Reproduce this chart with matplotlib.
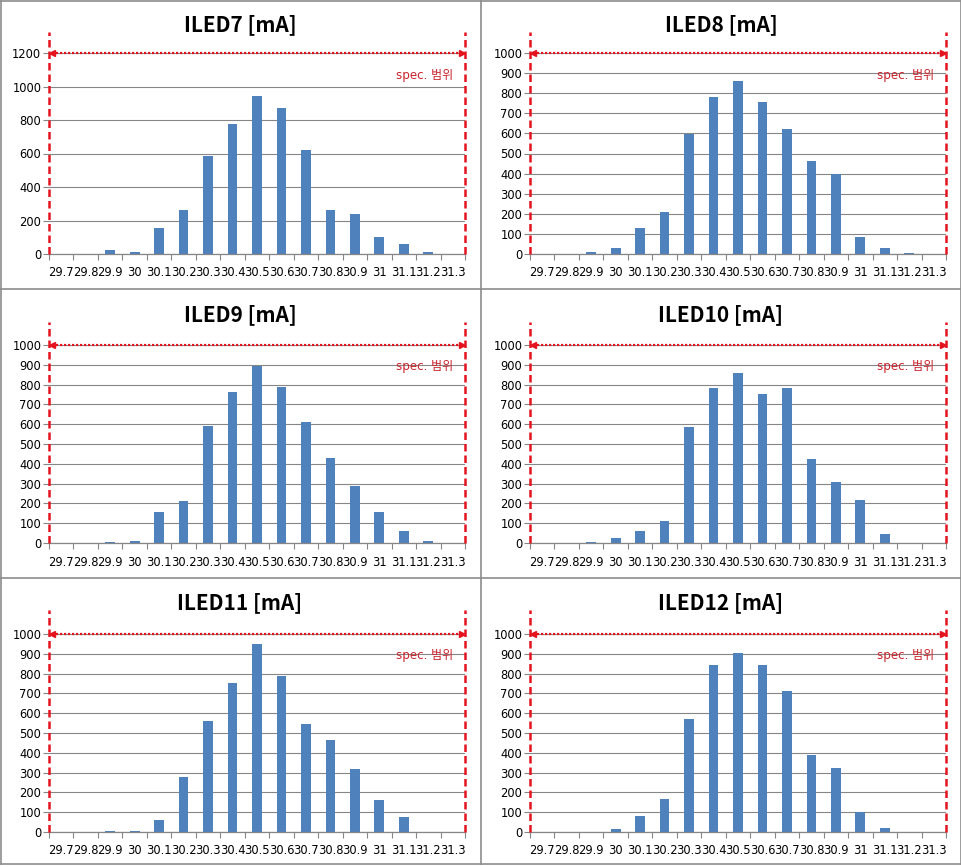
import matplotlib
matplotlib.use('Agg')
import matplotlib.pyplot as plt
from matplotlib.lines import Line2D
import numpy as np

plt.rcParams['font.family'] = ['DejaVu Sans', 'Noto Sans CJK KR']

categories = ['29.7', '29.8', '29.9', '30', '30.1', '30.2', '30.3', '30.4', '30.5',
              '30.6', '30.7', '30.8', '30.9', '31', '31.1', '31.2', '31.3']

iled7 = [0, 0, 26, 12, 157, 265, 585, 775, 945, 870, 620, 262, 237, 103, 62, 14, 0]
iled8 = [0, 0, 10, 29, 128, 210, 599, 782, 862, 757, 621, 465, 398, 87, 32, 5, 0]
iled9 = [0, 0, 5, 12, 155, 213, 592, 763, 894, 788, 612, 430, 289, 158, 62, 12, 0]
iled10 = [0, 0, 5, 27, 62, 112, 585, 781, 861, 755, 781, 424, 308, 218, 47, 0, 0]
iled11 = [0, 0, 7, 7, 62, 279, 561, 753, 950, 788, 546, 466, 319, 163, 77, 0, 0]
iled12 = [0, 0, 0, 17, 82, 168, 571, 844, 904, 844, 713, 390, 324, 101, 22, 0, 0]

titles = ['ILED7 [mA]', 'ILED8 [mA]', 'ILED9 [mA]', 'ILED10 [mA]', 'ILED11 [mA]', 'ILED12 [mA]']
series = [iled7, iled8, iled9, iled10, iled11, iled12]
y_max = [1200, 1000, 1000, 1000, 1000, 1000]
y_step = [200, 100, 100, 100, 100, 100]
spec_label = 'spec. 범위'

W, H = 962, 867
fig = plt.figure(figsize=(W / 100, H / 100), dpi=100)

BAR = '#4F81BD'
GRID = '#868686'
RED = '#E3141E'
TXTRED = '#C8232C'

col_x = [0, 481]
row_top = [53, 345, 634]
row_bot = [254, 543, 832]
row_off = [0, 290, 578]

x = np.arange(len(categories))

for i, (vals, title) in enumerate(zip(series, titles)):
    r, c = divmod(i, 2)
    left = col_x[c] + 49
    right = col_x[c] + 465
    top = row_top[r]
    bot = row_bot[r]
    ax = fig.add_axes([left / W, 1 - bot / H, (right - left) / W, (bot - top) / H])
    ax.bar(x, vals, width=0.4, color=BAR, zorder=2)
    ax.set_xlim(-0.5, len(categories) - 0.5)
    ax.set_ylim(0, y_max[i])
    ax.set_yticks(np.arange(0, y_max[i] + 1, y_step[i]))
    ax.yaxis.grid(True, color=GRID, lw=0.8)
    ax.set_axisbelow(True)
    for s in ['top', 'right', 'left']:
        ax.spines[s].set_visible(False)
    ax.spines['bottom'].set_color(GRID)
    ax.spines['bottom'].set_linewidth(0.9)
    ax.spines['bottom'].set_zorder(3)
    ax.set_xticks(x)
    ax.set_xticklabels(categories, fontsize=8.3)
    ax.tick_params(axis='x', which='major', length=0, pad=9)
    ax.set_xticks(np.arange(-0.5, len(categories), 1), minor=True)
    ax.tick_params(axis='x', which='minor', length=4, color=GRID, width=0.8)
    ax.tick_params(axis='y', length=4, color=GRID, width=0.8, labelsize=8.3, pad=1.5)

    # spec limits (vertical red dashed lines)
    ext = 1 + (top - (row_off[r] + 32)) / (bot - top)
    for xv in (-0.5, len(categories) - 0.5):
        ax.plot([xv, xv], [0, ext], transform=ax.get_xaxis_transform(), color=RED,
                lw=1.8, ls=(0, (3, 1.6)), clip_on=False, zorder=5)
    # dotted double arrow
    xa0, xa1 = -0.38, len(categories) - 0.62
    ax.plot([xa0, xa1], [y_max[i], y_max[i]], color=RED, lw=1.6, ls=(0, (1, 0.8)),
            clip_on=False, zorder=5)
    ax.plot([xa0], [y_max[i]], marker='<', ms=5, color=RED, clip_on=False, zorder=6)
    ax.plot([xa1], [y_max[i]], marker='>', ms=5, color=RED, clip_on=False, zorder=6)
    ax.text(0.972, 0.89, spec_label, transform=ax.transAxes, ha='right', va='center',
            color=TXTRED, fontsize=8.6, family=['DejaVu Sans', 'Noto Sans CJK KR'])

    fig.text((col_x[c] + 240) / W, 1 - (row_off[r] + 25) / H, title, ha='center',
             va='center', fontsize=15, fontweight='bold',
             family=['Noto Sans CJK KR', 'DejaVu Sans'])

# panel borders
BORDER = '#8C8C8C'
for xv in (1, 481, 961):
    fig.add_artist(Line2D([xv / W, xv / W], [1 - 1 / H, 1 - 864 / H], color=BORDER, lw=1.2))
for yv in (1, 289, 578, 864):
    fig.add_artist(Line2D([1 / W, 961 / W], [1 - yv / H, 1 - yv / H], color=BORDER, lw=1.2))

fig.savefig('out.png', dpi=100, facecolor='white')
